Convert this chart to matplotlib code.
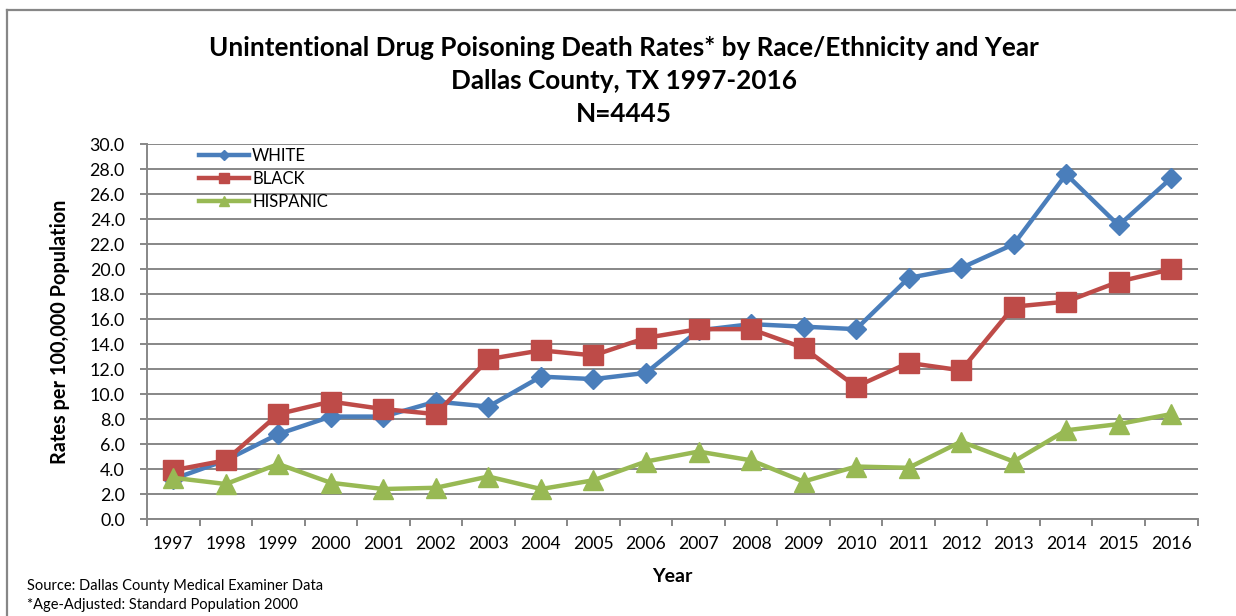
import matplotlib
matplotlib.use('Agg')
import matplotlib.pyplot as plt
from matplotlib.lines import Line2D

plt.rcParams['font.family'] = ['Lato', 'DejaVu Sans']

years = [str(y) for y in range(1997, 2017)]
white = [3.2, 4.7, 6.8, 8.2, 8.2, 9.4, 9.0, 11.4, 11.2, 11.7,
         15.1, 15.6, 15.4, 15.2, 19.3, 20.1, 22.0, 27.6, 23.5, 27.3]
black = [3.9, 4.7, 8.4, 9.4, 8.8, 8.4, 12.8, 13.5, 13.1, 14.5,
         15.2, 15.2, 13.7, 10.6, 12.5, 11.9, 17.0, 17.4, 19.0, 20.0]
hispanic = [3.3, 2.8, 4.4, 2.9, 2.4, 2.5, 3.4, 2.4, 3.1, 4.6,
            5.4, 4.7, 3.0, 4.2, 4.1, 6.2, 4.6, 7.1, 7.6, 8.4]
y_ticks = [v * 2.0 for v in range(16)]

grey = '#878787'

fig = plt.figure(figsize=(12.36, 6.16), dpi=100)
ax = fig.add_axes([147 / 1236, 97 / 616, 1050.5 / 1236, 374.7 / 616])

x = list(range(len(years)))
ax.plot(x, white, color='#4a7ebb', lw=3.2, marker='D', ms=10, label='WHITE')
ax.plot(x, black, color='#be4b48', lw=3.2, marker='s', ms=14, label='BLACK')
ax.plot(x, hispanic, color='#98b954', lw=3.2, marker='^', ms=14, label='HISPANIC')

ax.set_xlim(-0.5, len(years) - 0.5)
ax.set_ylim(0, 30)
ax.set_yticks(y_ticks)
ax.set_yticklabels([f'{v:.1f}' for v in y_ticks], fontsize=12.8)
ax.yaxis.grid(True, color=grey, lw=1.4)
ax.set_axisbelow(True)

# category axis: tick marks between years, labels centred on years
ax.set_xticks([i - 0.5 for i in range(len(years) + 1)])
ax.set_xticklabels([])
ax.set_xticks(x, minor=True)
ax.set_xticklabels(years, minor=True, fontsize=12.6)
ax.tick_params(axis='x', which='major', length=5, color=grey, width=1.4)
ax.tick_params(axis='x', which='minor', length=0, pad=12)
ax.tick_params(axis='y', length=5, color=grey, width=1.4, pad=11)

for side in ['top', 'right']:
    ax.spines[side].set_visible(False)
for side in ['left', 'bottom']:
    ax.spines[side].set_color(grey)
    ax.spines[side].set_linewidth(1.4)

ax.set_ylabel('Rates per 100,000 Population', fontsize=14.3, fontweight='bold')
ax.yaxis.set_label_coords(-0.073, 0.5)
ax.set_xlabel('Year', fontsize=14, fontweight='bold')
ax.xaxis.set_label_coords(0.5, -0.131)

ax.legend(loc='upper left', bbox_to_anchor=(0.035, 1.03), frameon=False, fontsize=12,
          handlelength=3.0, handletextpad=0.2, labelspacing=0.42, markerscale=0.55)

title_x = 624 / 1236
fig.text(title_x, 1 - 48 / 616, 'Unintentional Drug Poisoning Death Rates* by Race/Ethnicity and Year',
         ha='center', va='center', fontsize=18.8, fontweight='bold')
fig.text(title_x, 1 - 81 / 616, 'Dallas County, TX 1997-2016',
         ha='center', va='center', fontsize=18.8, fontweight='bold')
fig.text(title_x, 1 - 114 / 616, 'N=4445',
         ha='center', va='center', fontsize=18.8, fontweight='bold')

fig.text(27 / 1236, 1 - 586 / 616, 'Source: Dallas County Medical Examiner Data', fontsize=10.55, va='center')
fig.text(27 / 1236, 1 - 605 / 616, '*Age-Adjusted: Standard Population 2000', fontsize=10.55, va='center')

# outer chart frame (top and left edges)
fig.add_artist(Line2D([7 / 1236, 7 / 1236], [0, 1 - 10 / 616], transform=fig.transFigure, color=grey, lw=1.6))
fig.add_artist(Line2D([7 / 1236, 1], [1 - 10 / 616, 1 - 10 / 616], transform=fig.transFigure, color=grey, lw=1.6))

fig.savefig('out.png', dpi=100)
